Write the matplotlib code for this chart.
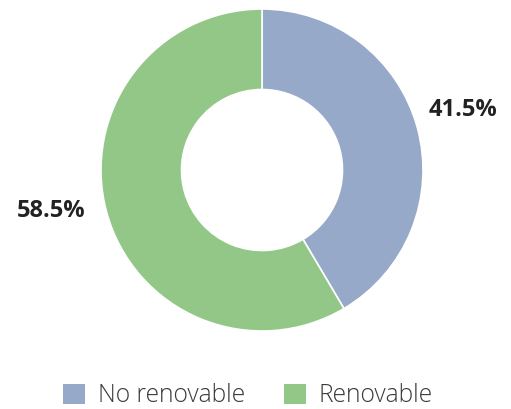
import matplotlib.pyplot as plt
from matplotlib.patches import Patch

labels = ['No renovable', 'Renovable']
values = [41.5, 58.5]
colors = ['#97a9c9', '#93c787']
# where the percent labels sit, in pie data units
label_pos = [(1.25, 0.37), (-1.31, -0.255)]

fig = plt.figure(figsize=(5.11, 4.09), dpi=100)
ax = fig.add_axes([101 / 511, 78 / 409, 322 / 511, 322 / 409])

wedges, texts, autotexts = ax.pie(
    values, colors=colors, startangle=90, counterclock=False,
    autopct='%.1f%%', pctdistance=1.31, radius=1.0,
    wedgeprops=dict(width=0.5, edgecolor='white', linewidth=1.2))
for t, pos in zip(autotexts, label_pos):
    t.set_position(pos)
    t.set_fontsize(17)
    t.set_fontweight('bold')
    t.set_color('#222222')
    t.set_family(['Open Sans', 'DejaVu Sans'])
ax.set_xlim(-1, 1)
ax.set_ylim(-1, 1)
ax.set_aspect('equal')
ax.axis('off')

handles = [Patch(facecolor=c, label=l) for c, l in zip(colors, labels)]
fig.legend(handles=handles, loc='center', bbox_to_anchor=(248 / 511, 1 - 396 / 409),
           ncol=2, frameon=False, handlelength=0.9, handleheight=0.9,
           handletextpad=0.5, columnspacing=1.6,
           prop={'family': ['Open Sans', 'DejaVu Sans'], 'size': 17.7, 'weight': 'light'},
           labelcolor='#3a3a3a')

fig.savefig('out.png', dpi=100)
